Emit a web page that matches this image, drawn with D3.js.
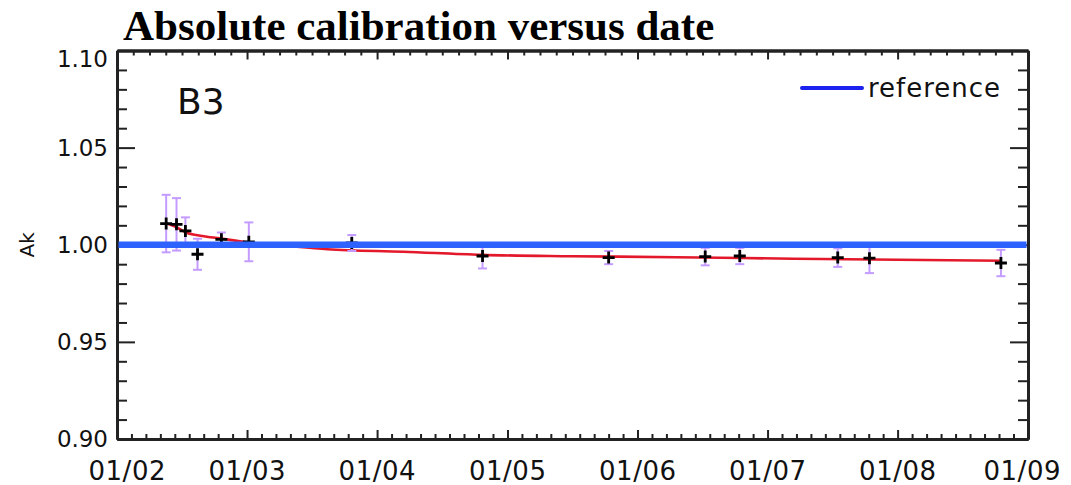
<!DOCTYPE html>
<html>
<head>
<meta charset="utf-8">
<script src="https://cdn.jsdelivr.net/npm/d3@7"></script>
<style>
  html, body { margin: 0; padding: 0; background: #fff; }
  svg { display: block; }
</style>
</head>
<body>
<svg id="chart" width="1071" height="485"></svg>
<script>
// Measurement dates, calibration coefficient Ak and its 1-sigma uncertainty
const obsDates = ["2002-05-19", "2002-06-17", "2002-07-12", "2002-08-15", "2002-10-21",
                  "2003-01-06", "2003-10-22", "2004-10-23", "2005-10-12", "2006-07-10",
                  "2006-10-15", "2007-07-17", "2007-10-14", "2008-10-17"];
const obsValues = [1.0109, 1.0105, 1.0071, 0.9951, 1.0028,
                   1.0015, 1.0009, 0.9942, 0.9934, 0.9939,
                   0.9942, 0.9934, 0.9931, 0.9906];
const obsErrors = [0.0148, 0.0135, 0.0070, 0.0080, 0.0035,
                   0.0100, 0.0041, 0.0064, 0.0034, 0.0045,
                   0.0042, 0.0048, 0.0077, 0.0068];

// Fitted drift curve
const fitDates = ["2002-05-19", "2002-06-17", "2002-07-13", "2002-08-15", "2002-10-20",
                  "2003-01-01", "2003-04-20", "2003-08-15", "2004-03-15", "2004-10-20",
                  "2005-07-01", "2006-04-20", "2007-03-15", "2008-01-01", "2008-10-20"];
const fitValues = [1.0110, 1.0090, 1.0063, 1.0049, 1.0032,
                   1.0013, 0.9995, 0.9977, 0.9964, 0.9948,
                   0.9941, 0.9936, 0.9928, 0.9923, 0.9918];

// Reference level
const referenceValue = 1.0;

// Axis ticks
const yearTicks = ["2002-01-01", "2003-01-01", "2004-01-01", "2005-01-01",
                   "2006-01-01", "2007-01-01", "2008-01-01", "2009-01-01"];
const yearLabels = ["01/02", "01/03", "01/04", "01/05", "01/06", "01/07", "01/08", "01/09"];
const yTicks = [0.90, 0.95, 1.00, 1.05, 1.10];
const yLabels = ["0.90", "0.95", "1.00", "1.05", "1.10"];

const parse = d3.utcParse("%Y-%m-%d");
const svg = d3.select("#chart");

const plotLeft = 117, plotRight = 1028, plotTop = 50.5, plotBottom = 439;

const x = d3.scaleUtc()
  .domain([parse(yearTicks[0]), parse(yearTicks[yearTicks.length - 1])])
  .range([plotLeft, plotRight]);
const y = d3.scaleLinear().domain([0.90, 1.10]).range([plotBottom, plotTop]);

const yearDates = yearTicks.map(parse);

// minor ticks: split each year into equal parts
function splitYears(parts) {
  const out = [];
  for (let i = 0; i < yearDates.length - 1; i++) {
    const a = yearDates[i].getTime(), b = yearDates[i + 1].getTime();
    for (let k = 1; k < parts; k++) out.push(new Date(a + k * (b - a) / parts));
  }
  return out;
}
const minorBottom = splitYears(9);
const minorTop = splitYears(8);
const minorY = d3.range(0.90, 1.1001, 0.01).map(v => +v.toFixed(2))
  .filter(v => !yTicks.some(t => Math.abs(t - v) < 1e-6));

const axisColor = "#222";

function styleAxis(g, w) {
  g.select(".domain").attr("stroke", axisColor).attr("stroke-width", w);
  g.selectAll(".tick line").attr("stroke", axisColor).attr("stroke-width", 2);
  g.selectAll(".tick text").remove();
}

// frame + ticks (all ticks point into the plot)
svg.append("g").attr("transform", `translate(0,${plotBottom})`)
  .call(d3.axisBottom(x).tickValues(minorBottom).tickSize(-5).tickSizeOuter(0).tickFormat(""))
  .call(g => styleAxis(g, 3));
svg.append("g").attr("transform", `translate(0,${plotBottom})`)
  .call(d3.axisBottom(x).tickValues(yearDates).tickSize(-9).tickSizeOuter(0).tickFormat(""))
  .call(g => styleAxis(g, 3));
svg.append("g").attr("transform", `translate(0,${plotTop})`)
  .call(d3.axisTop(x).tickValues(minorTop).tickSize(-5).tickSizeOuter(0).tickFormat(""))
  .call(g => styleAxis(g, 3));
svg.append("g").attr("transform", `translate(0,${plotTop})`)
  .call(d3.axisTop(x).tickValues(yearDates).tickSize(-9).tickSizeOuter(0).tickFormat(""))
  .call(g => styleAxis(g, 3));
svg.append("g").attr("transform", `translate(${plotLeft},0)`)
  .call(d3.axisLeft(y).tickValues(minorY).tickSize(-10).tickSizeOuter(0).tickFormat(""))
  .call(g => styleAxis(g, 3));
svg.append("g").attr("transform", `translate(${plotLeft},0)`)
  .call(d3.axisLeft(y).tickValues(yTicks).tickSize(-18).tickSizeOuter(0).tickFormat(""))
  .call(g => styleAxis(g, 3));
svg.append("g").attr("transform", `translate(${plotRight},0)`)
  .call(d3.axisRight(y).tickValues(minorY).tickSize(-10).tickSizeOuter(0).tickFormat(""))
  .call(g => styleAxis(g, 3));
svg.append("g").attr("transform", `translate(${plotRight},0)`)
  .call(d3.axisRight(y).tickValues(yTicks).tickSize(-18).tickSizeOuter(0).tickFormat(""))
  .call(g => styleAxis(g, 3));

// tick labels
const labelFont = "'DejaVu Sans', Verdana, sans-serif";
svg.append("g").selectAll("text").data(yearDates).join("text")
  .attr("x", (d, i) => x(d) + (i === 0 ? 10 : i === yearDates.length - 1 ? -6 : 0))
  .attr("y", 480)
  .attr("text-anchor", "middle")
  .attr("font-family", labelFont)
  .attr("font-size", 26)
  .attr("fill", "#111")
  .attr("textLength", 77)
  .attr("lengthAdjust", "spacing")
  .text((d, i) => yearLabels[i]);

svg.append("g").selectAll("text").data(yTicks).join("text")
  .attr("x", 108)
  .attr("y", (d, i) => y(d) + 8 + (i === yTicks.length - 1 ? 8 : 0))
  .attr("text-anchor", "end")
  .attr("font-family", labelFont)
  .attr("font-size", 23)
  .attr("fill", "#111")
  .attr("textLength", 51)
  .attr("lengthAdjust", "spacing")
  .text((d, i) => yLabels[i]);

// y axis title
svg.append("text")
  .attr("transform", `translate(34,${y(1.0)}) rotate(-90)`)
  .attr("text-anchor", "middle")
  .attr("font-family", labelFont)
  .attr("font-size", 20)
  .attr("fill", "#111")
  .text("Ak");

// chart title
svg.append("text")
  .attr("x", 123).attr("y", 40)
  .attr("font-family", "'Liberation Serif', 'Times New Roman', serif")
  .attr("font-weight", "bold")
  .attr("font-size", 43)
  .attr("fill", "#000")
  .text("Absolute calibration versus date");

// band label
svg.append("text")
  .attr("x", 177).attr("y", 114)
  .attr("font-family", labelFont)
  .attr("font-size", 36)
  .attr("fill", "#111")
  .text("B3");

// fitted curve
const fit = fitDates.map((d, i) => ({ date: parse(d), value: fitValues[i] }));
svg.append("path")
  .datum(fit)
  .attr("fill", "none")
  .attr("stroke", "#e3192b")
  .attr("stroke-width", 2.6)
  .attr("d", d3.line().x(d => x(d.date)).y(d => y(d.value)).curve(d3.curveMonotoneX));

// observations
const obs = obsDates.map((d, i) => ({ date: parse(d), value: obsValues[i], err: obsErrors[i] }));
const errColor = "#c49cff";
const eb = svg.append("g").attr("stroke", errColor).attr("stroke-width", 2);
eb.selectAll("line.bar").data(obs).join("line").attr("class", "bar")
  .attr("x1", d => x(d.date)).attr("x2", d => x(d.date))
  .attr("y1", d => y(d.value + d.err)).attr("y2", d => y(d.value - d.err));
eb.selectAll("line.capTop").data(obs).join("line").attr("class", "capTop")
  .attr("x1", d => x(d.date) - 4.5).attr("x2", d => x(d.date) + 4.5)
  .attr("y1", d => y(d.value + d.err)).attr("y2", d => y(d.value + d.err));
eb.selectAll("line.capBot").data(obs).join("line").attr("class", "capBot")
  .attr("x1", d => x(d.date) - 4.5).attr("x2", d => x(d.date) + 4.5)
  .attr("y1", d => y(d.value - d.err)).attr("y2", d => y(d.value - d.err));

const plus = svg.append("g").attr("stroke", "#000").attr("stroke-width", 2.8);
plus.selectAll("path").data(obs).join("path")
  .attr("d", d => {
    const cx = x(d.date), cy = y(d.value), r = 6;
    return `M${cx - r},${cy}H${cx + r}M${cx},${cy - r}V${cy + r}`;
  });

// reference level
svg.append("line")
  .attr("x1", plotLeft + 1.5).attr("x2", plotRight - 1.5)
  .attr("y1", y(referenceValue)).attr("y2", y(referenceValue))
  .attr("stroke", "#2d62ff")
  .attr("stroke-width", 6.5);

// legend
svg.append("line")
  .attr("x1", 802).attr("x2", 862).attr("y1", 88).attr("y2", 88)
  .attr("stroke", "#1c22f0").attr("stroke-width", 4).attr("stroke-linecap", "round");
svg.append("text")
  .attr("x", 868).attr("y", 97)
  .attr("font-family", labelFont)
  .attr("font-size", 26)
  .attr("fill", "#111")
  .attr("textLength", 132)
  .attr("lengthAdjust", "spacing")
  .text("reference");
</script>
</body>
</html>
